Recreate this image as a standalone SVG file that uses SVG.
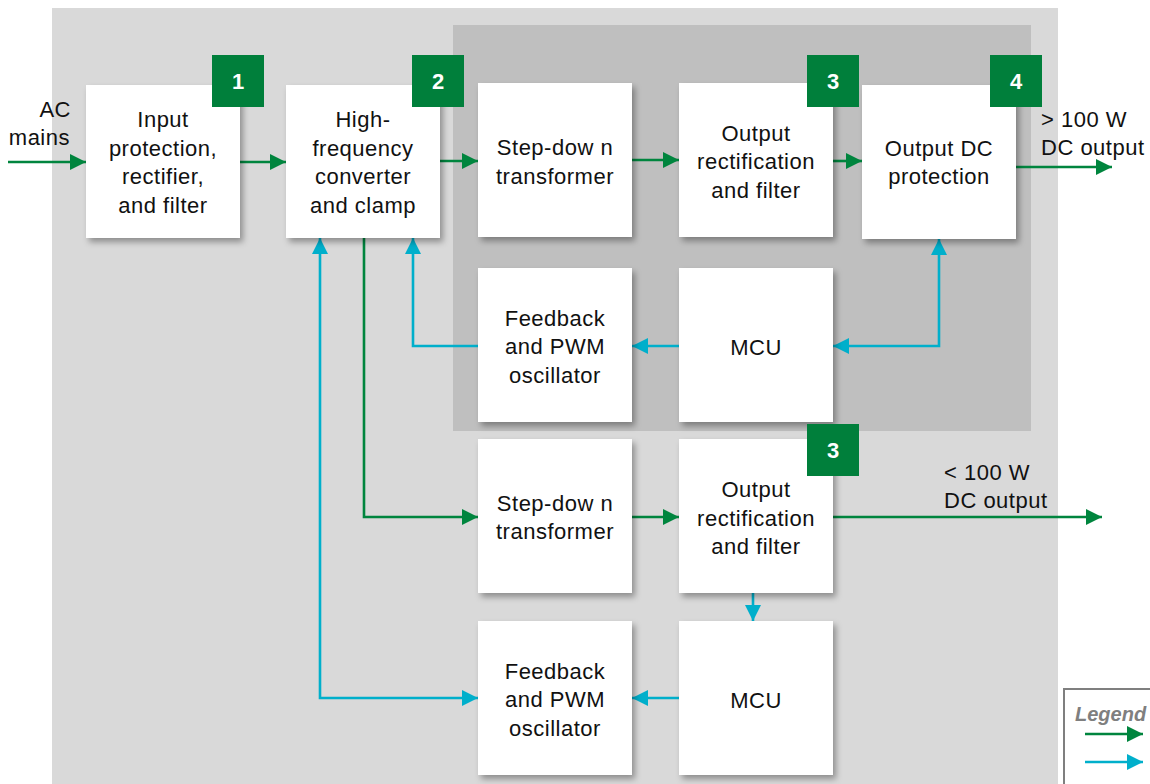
<svg xmlns="http://www.w3.org/2000/svg" width="1150" height="784" viewBox="0 0 1150 784">
<style>
.box{fill:#fff;filter:url(#sh)}
.badge{fill:#007f3b}
.bn{font-family:"Liberation Sans",Arial,sans-serif;font-size:22px;font-weight:bold;fill:#fff;text-anchor:middle}
.t{font-family:"Liberation Sans",Arial,sans-serif;font-size:22px;fill:#111;text-anchor:middle;letter-spacing:0.5px}
.lbl{font-family:"Liberation Sans",Arial,sans-serif;font-size:22px;fill:#111;letter-spacing:0.5px}
.g{fill:none;stroke:#00853e;stroke-width:2.6}
.c{fill:none;stroke:#00afcb;stroke-width:2.6}
</style>
<defs>
<filter id="sh" x="-10%" y="-10%" width="125%" height="125%">
<feDropShadow dx="3" dy="4" stdDeviation="3" flood-color="#000" flood-opacity="0.35"/>
</filter>
<marker id="ag" markerUnits="userSpaceOnUse" markerWidth="17" markerHeight="16" refX="16" refY="8" orient="auto"><path d="M0,0 L16,8 L0,16 Z" fill="#00853e"/></marker>
<marker id="ac" markerUnits="userSpaceOnUse" markerWidth="17" markerHeight="16" refX="16" refY="8" orient="auto"><path d="M0,0 L16,8 L0,16 Z" fill="#00afcb"/></marker>
<marker id="acs" markerUnits="userSpaceOnUse" markerWidth="17" markerHeight="16" refX="0" refY="8" orient="auto"><path d="M16,0 L0,8 L16,16 Z" fill="#00afcb"/></marker>
</defs>
<rect x="0" y="0" width="1150" height="784" fill="#fff"/>
<rect id="outer" x="52" y="8" width="1006" height="780" fill="#d9d9d9"/>
<rect id="inner" x="453" y="25" width="578" height="406" fill="#bfbfbf"/>

<g id="connectors">
<path class="g" d="M8,162 H86" marker-end="url(#ag)"/>
<path class="g" d="M240,162 H286" marker-end="url(#ag)"/>
<path class="g" d="M440,161 H478" marker-end="url(#ag)"/>
<path class="g" d="M632,160 H679" marker-end="url(#ag)"/>
<path class="g" d="M833,161 H862" marker-end="url(#ag)"/>
<path class="g" d="M1016,167 H1112" marker-end="url(#ag)"/>
<path class="c" d="M833,346 H939 V239" marker-start="url(#acs)" marker-end="url(#ac)"/>
<path class="c" d="M679,346 H632" marker-end="url(#ac)"/>
<path class="c" d="M478,346 H413 V238" marker-end="url(#ac)"/>
<path class="c" d="M320,238 V698 H478" marker-start="url(#acs)" marker-end="url(#ac)"/>
<path class="g" d="M364,238 V517 H478" marker-end="url(#ag)"/>
<path class="g" d="M632,517 H679" marker-end="url(#ag)"/>
<path class="g" d="M833,517 H1102" marker-end="url(#ag)"/>
<path class="c" d="M753,593 V621" marker-end="url(#ac)"/>
<path class="c" d="M679,698 H632" marker-end="url(#ac)"/>
</g>

<g id="n1">
<rect class="box" x="86" y="85" width="154" height="153"/>
<text class="t" x="163" y="127">Input</text>
<text class="t" x="163" y="155.5">protection,</text>
<text class="t" x="163" y="184">rectifier,</text>
<text class="t" x="163" y="212.5">and filter</text>
<rect class="badge" x="212" y="55" width="52" height="52"/>
<text class="bn" x="238" y="89">1</text>
</g>

<g id="n2">
<rect class="box" x="286" y="85" width="154" height="153"/>
<text class="t" x="363" y="127">High-</text>
<text class="t" x="363" y="155.5">frequency</text>
<text class="t" x="363" y="184">converter</text>
<text class="t" x="363" y="212.5">and clamp</text>
<rect class="badge" x="412" y="55" width="52" height="52"/>
<text class="bn" x="438" y="89">2</text>
</g>

<g id="n3">
<rect class="box" x="478" y="83" width="154" height="154"/>
<text class="t" x="555" y="155">Step-dow n</text>
<text class="t" x="555" y="183.5">transformer</text>
</g>

<g id="n4">
<rect class="box" x="679" y="83" width="154" height="154"/>
<text class="t" x="756" y="140.5">Output</text>
<text class="t" x="756" y="169">rectification</text>
<text class="t" x="756" y="197.5">and filter</text>
<rect class="badge" x="807" y="55" width="52" height="52"/>
<text class="bn" x="833" y="89">3</text>
</g>

<g id="n5">
<rect class="box" x="862" y="85" width="154" height="154"/>
<text class="t" x="939" y="156">Output DC</text>
<text class="t" x="939" y="184">protection</text>
<rect class="badge" x="990" y="55" width="52" height="52"/>
<text class="bn" x="1016" y="89">4</text>
</g>

<g id="n6">
<rect class="box" x="478" y="268" width="154" height="154"/>
<text class="t" x="555" y="325.5">Feedback</text>
<text class="t" x="555" y="354">and PWM</text>
<text class="t" x="555" y="382.5">oscillator</text>
</g>

<g id="n7">
<rect class="box" x="679" y="268" width="154" height="154"/>
<text class="t" x="756" y="355">MCU</text>
</g>

<g id="n8">
<rect class="box" x="478" y="439" width="154" height="154"/>
<text class="t" x="555" y="510.5">Step-dow n</text>
<text class="t" x="555" y="539">transformer</text>
</g>

<g id="n9">
<rect class="box" x="679" y="439" width="154" height="154"/>
<text class="t" x="756" y="497">Output</text>
<text class="t" x="756" y="525.5">rectification</text>
<text class="t" x="756" y="554">and filter</text>
<rect class="badge" x="807" y="424" width="52" height="52"/>
<text class="bn" x="833" y="458">3</text>
</g>

<g id="n10">
<rect class="box" x="478" y="621" width="154" height="154"/>
<text class="t" x="555" y="678.5">Feedback</text>
<text class="t" x="555" y="707">and PWM</text>
<text class="t" x="555" y="735.5">oscillator</text>
</g>

<g id="n11">
<rect class="box" x="679" y="621" width="154" height="154"/>
<text class="t" x="756" y="708">MCU</text>
</g>

<g id="labels">
<text class="lbl" x="71" y="117" text-anchor="end">AC</text>
<text class="lbl" x="70" y="145" text-anchor="end">mains</text>
<text class="lbl" x="1041" y="127">&gt; 100 W</text>
<text class="lbl" x="1041" y="155">DC output</text>
<text class="lbl" x="944" y="480">&lt; 100 W</text>
<text class="lbl" x="944" y="508">DC output</text>
</g>

<g id="legend">
<rect x="1064" y="689" width="100" height="110" fill="#fff" stroke="#7f7f7f" stroke-width="2"/>
<text x="1075" y="721" font-family="Liberation Sans,Arial,sans-serif" font-size="20" font-weight="bold" font-style="italic" fill="#7f7f7f">Legend</text>
<path class="g" d="M1085,734 H1143" marker-end="url(#ag)"/>
<path class="c" d="M1085,762 H1143" marker-end="url(#ac)"/>
</g>
</svg>
